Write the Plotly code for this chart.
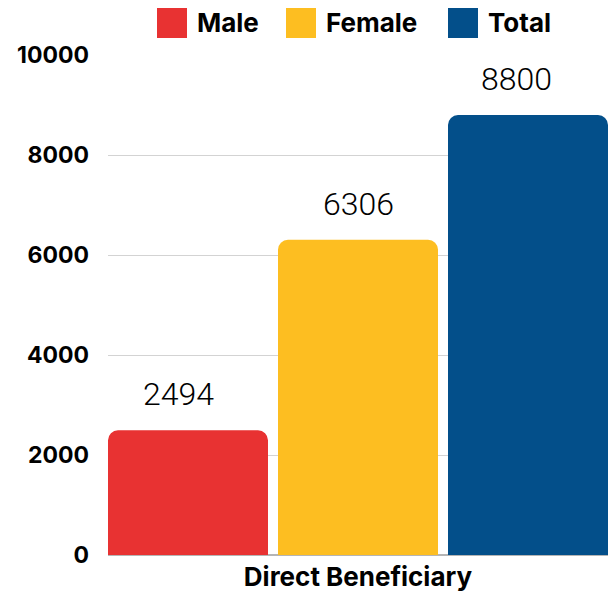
import plotly.graph_objects as go

# ---- data ----
categories = ["Direct Beneficiary"]
series_names = ["Male", "Female", "Total"]
male = [2494]
female = [6306]
total = [8800]
series_values = [male, female, total]
y_tick_vals = [0, 2000, 4000, 6000, 8000, 10000]
y_tick_text = ["0", "2000", "4000", "6000", "8000", "10000"]

colors = ["#E83232", "#FDBE21", "#034F8A"]
label_nudge_px = [-10, 0, -12]   # small horizontal nudge of value labels, as in the reference

W, H = 611, 599
ML, MR, MT, MB = 108, 3, 55, 44
PW = W - ML - MR
PH = H - MT - MB

BOLD = "Inter"
LIGHT = "Roboto"

fig = go.Figure()
for name, vals, col in zip(series_names, series_values, colors):
    fig.add_trace(go.Bar(
        x=categories, y=vals, name=name,
        marker=dict(color=col, line=dict(width=0), cornerradius=10),
        showlegend=False, hoverinfo="x+y+name",
    ))

n = len(series_names)
annotations = []
for i, vals in enumerate(series_values):
    for j, v in enumerate(vals):
        annotations.append(dict(
            x=j + (i - (n - 1) / 2) / n, y=v, xref="x", yref="y",
            text=str(v), showarrow=False, yanchor="bottom", yshift=15,
            xshift=label_nudge_px[i],
            font=dict(family=LIGHT, size=32, color="#000000", weight=300),
        ))

# custom legend (large squares)
def px2x(px):
    return (px - ML) / PW

def py2y(py):
    return (H - MB - py) / PH

legend_left = [157, 286, 448]
shapes = []
for name, col, lx in zip(series_names, colors, legend_left):
    shapes.append(dict(type="rect", xref="paper", yref="paper",
                       x0=px2x(lx), x1=px2x(lx + 30), y0=py2y(38), y1=py2y(8),
                       fillcolor=col, line=dict(width=0)))
    annotations.append(dict(
        x=px2x(lx + 38), y=py2y(23), xref="paper", yref="paper",
        text=name, showarrow=False, xanchor="left", yanchor="middle",
        font=dict(family=BOLD, size=26, color="#000000", weight=700),
    ))

# bar slot geometry: bars 160px, gaps 10px, bars flush with plot edges
slot_px = 170.0
edge = 5.0 / (3 * slot_px)

fig.update_layout(
    width=W, height=H,
    margin=dict(l=ML, r=MR, t=MT, b=MB, pad=0),
    paper_bgcolor="white", plot_bgcolor="white",
    barmode="group", bargap=0, bargroupgap=10 / slot_px,
    showlegend=False,
    shapes=shapes, annotations=annotations,
    xaxis=dict(
        type="category", range=[-0.5 + edge, 0.5 - edge],
        showgrid=False, zeroline=False, showline=False, ticks="",
        tickfont=dict(family=BOLD, size=26, color="#000000", weight=700),
        ticklabelstandoff=4,
    ),
    yaxis=dict(
        range=[0, 10000], tickvals=y_tick_vals, ticktext=y_tick_text,
        showgrid=True, gridcolor="#D3D3D3", gridwidth=1,
        zeroline=True, zerolinecolor="#B5B5B5", zerolinewidth=1.5,
        showline=False, ticks="",
        tickfont=dict(family=BOLD, size=23, color="#000000", weight=700),
        ticklabelstandoff=18,
    ),
)

fig.write_html("out.html", config={"displayModeBar": False},
               post_script="document.body.style.margin='0px';")
